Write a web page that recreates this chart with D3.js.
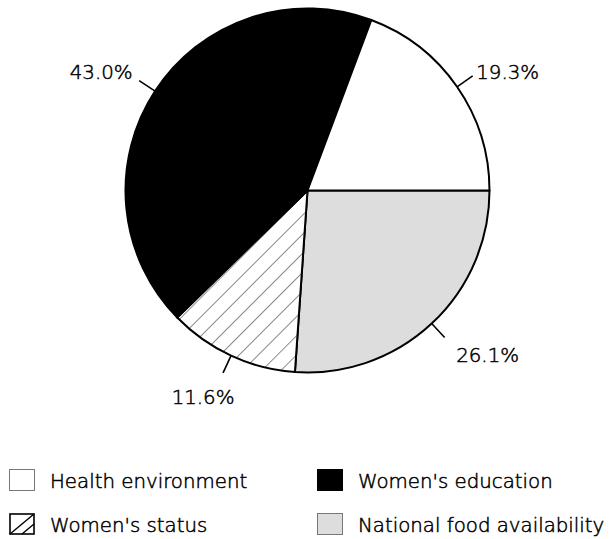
<!DOCTYPE html>
<html>
<head>
<meta charset="utf-8">
<script src="https://cdn.jsdelivr.net/npm/d3@7"></script>
<style>
  html, body { margin: 0; padding: 0; background: #fff; }
  svg { display: block; }
  text { font-family: "DejaVu Sans", sans-serif; font-weight: 200; fill: #000; stroke: #000; stroke-width: 0.5px; }
</style>
</head>
<body>
<svg id="chart" width="610" height="539"></svg>
<script>
// Shares of the reduction in child malnutrition, by contributing factor
const categories = ["National food availability", "Women's status", "Women's education", "Health environment"];
const values = [26.1, 11.6, 43.0, 19.3];
const valueLabels = ["26.1%", "11.6%", "43.0%", "19.3%"];
const legendOrder = ["Health environment", "Women's education", "Women's status", "National food availability"];

const cx = 307.5, cy = 190.5, R = 182;
const fills = {
  "National food availability": "#dddddd",
  "Women's status": "url(#hatch)",
  "Women's education": "#000000",
  "Health environment": "#ffffff"
};
// where each value label sits relative to the end of its leader line
const labelShift = {
  "National food availability": [43, 17],
  "Women's status": [-20, 24],
  "Women's education": [-38, -9],
  "Health environment": [35, -4.5]
};

const svg = d3.select("#chart");
const defs = svg.append("defs");
const pat = defs.append("pattern")
  .attr("id", "hatch")
  .attr("patternUnits", "userSpaceOnUse")
  .attr("width", 13.5).attr("height", 13.5)
  .attr("patternTransform", "rotate(45)");
pat.append("rect").attr("width", 13.5).attr("height", 13.5).attr("fill", "#fff");
pat.append("line").attr("x1", 0).attr("y1", 0).attr("x2", 0).attr("y2", 13.5)
  .attr("stroke", "#000").attr("stroke-width", 0.9);

const data = categories.map((c, i) => ({ name: c, value: values[i], label: valueLabels[i] }));

const pie = d3.pie()
  .sort(null)
  .value(d => d.value)
  .startAngle(Math.PI / 2)
  .endAngle(Math.PI / 2 + 2 * Math.PI);

const arc = d3.arc().innerRadius(0).outerRadius(R);
const arcs = pie(data);

const g = svg.append("g").attr("transform", `translate(${cx},${cy})`);

g.selectAll("path.slice")
  .data(arcs)
  .join("path")
  .attr("class", "slice")
  .attr("d", arc)
  .attr("fill", d => fills[d.data.name])
  .attr("stroke", "#000")
  .attr("stroke-width", 2)
  .attr("stroke-linejoin", "round");

// leader lines and value labels
const leaderLen = 19;
arcs.forEach(a => {
  const mid = (a.startAngle + a.endAngle) / 2;
  const sx = Math.sin(mid), sy = -Math.cos(mid);
  const x0 = sx * R, y0 = sy * R;
  const x1 = sx * (R + leaderLen), y1 = sy * (R + leaderLen);
  g.append("line")
    .attr("x1", x0).attr("y1", y0).attr("x2", x1).attr("y2", y1)
    .attr("stroke", "#000").attr("stroke-width", 1.6);
  const [dx, dy] = labelShift[a.data.name];
  g.append("text")
    .attr("x", x1 + dx)
    .attr("y", y1 + dy + 7.5)
    .attr("text-anchor", "middle")
    .attr("font-size", 19.8)
    .text(a.data.label);
});

// legend, two columns by two rows
const legend = svg.append("g");
const colX = [9, 317];
const rowY = [469, 513];
legendOrder.forEach((name, i) => {
  const col = i % 2, row = Math.floor(i / 2);
  const x = colX[col], y = rowY[row];
  const item = legend.append("g").attr("transform", `translate(${x},${y})`);
  if (name === "Women's status") {
    item.append("rect").attr("x", 1).attr("y", 1).attr("width", 24).attr("height", 20)
      .attr("fill", "#fff").attr("stroke", "#000").attr("stroke-width", 1.6);
    item.append("line").attr("x1", 1).attr("y1", 21).attr("x2", 25).attr("y2", 1)
      .attr("stroke", "#000").attr("stroke-width", 1.4);
    item.append("line").attr("x1", 13).attr("y1", 21).attr("x2", 25).attr("y2", 11)
      .attr("stroke", "#000").attr("stroke-width", 1.4);
  } else if (name === "Women's education") {
    item.append("rect").attr("x", 0).attr("y", 0).attr("width", 26).attr("height", 22)
      .attr("fill", "#000");
  } else {
    item.append("rect").attr("x", 0.5).attr("y", 0.5).attr("width", 25).attr("height", 21)
      .attr("fill", fills[name]).attr("stroke", "#777").attr("stroke-width", 1);
  }
  item.append("text")
    .attr("x", 41)
    .attr("y", 19)
    .attr("font-size", 19.8)
    .text(name);
});
</script>
</body>
</html>
